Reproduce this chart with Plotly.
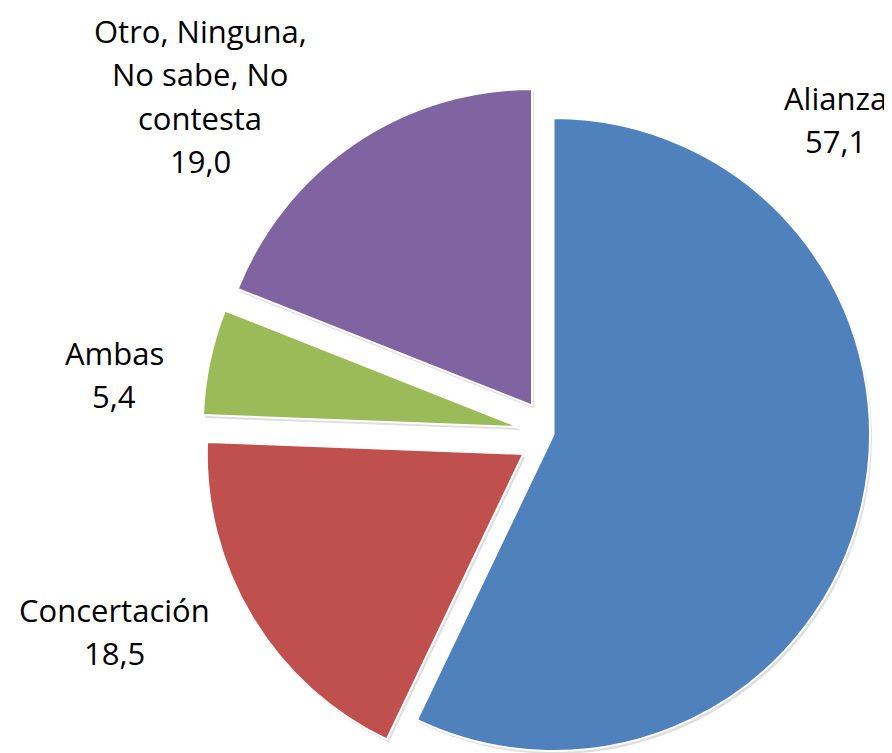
import plotly.graph_objects as go

# ---- data ----
labels = ["Alianza", "Concertación", "Ambas", "Otro, Ninguna, No sabe, No contesta"]
values = [57.1, 18.5, 5.4, 19.0]
label_lines = [["Alianza"], ["Concertación"], ["Ambas"], ["Otro, Ninguna,", "No sabe, No", "contesta"]]
colors = ["#4F81BD", "#C0504D", "#9BBB59", "#8064A2"]

# ---- layout constants (window pixels) ----
OFF = 8                      # page body margin
W, H = 892 - OFF, 766        # figure size (bottom slightly below the window)
R = 316.5
centers = [(553.5, 434.5), (523.3, 453.9), (519.3, 427.0), (532.0, 405.5)]  # exploded slice centres
label_anchor = [(835, 110), (114, 622), (114, 365), (200, 43)]   # centre x, first baseline y
LINE_STEP = [43.5, 43.5, 43.5, 43.4]
FONT = 31
FONT_FAMILY = "Open Sans"
SHADOW_DX, SHADOW_DY = 2, 3


def clamp(v):
    return min(1.0, max(0.0, v))


def dom(cx, cy, r):
    cx -= OFF
    cy -= OFF
    return dict(x=[clamp((cx - r) / W), clamp((cx + r) / W)],
                y=[clamp(1 - (cy + r) / H), clamp(1 - (cy - r) / H)])


fig = go.Figure()
n = len(values)
# soft shadows underneath
for i in range(n):
    cx, cy = centers[i]
    fig.add_trace(go.Pie(
        labels=labels, values=values, sort=False, direction="clockwise", rotation=0,
        marker=dict(colors=["rgba(0,0,0,0.13)" if j == i else "rgba(0,0,0,0)" for j in range(n)],
                    line=dict(width=0)),
        textinfo="none", hoverinfo="skip", showlegend=False,
        domain=dom(cx + SHADOW_DX, cy + SHADOW_DY, R),
    ))
# slices
for i in range(n):
    cx, cy = centers[i]
    fig.add_trace(go.Pie(
        labels=labels, values=values, sort=False, direction="clockwise", rotation=0,
        marker=dict(colors=[colors[j] if j == i else "rgba(0,0,0,0)" for j in range(n)],
                    line=dict(color="white", width=[2 if j == i else 0 for j in range(n)])),
        textinfo="none", hoverinfo="label+value", showlegend=False,
        domain=dom(cx, cy, R),
    ))

annotations = []
for i, lines in enumerate(label_lines):
    x0, base0 = label_anchor[i]
    txt_lines = lines + [f"{values[i]:.1f}".replace(".", ",")]
    for k, t in enumerate(txt_lines):
        base = base0 + k * LINE_STEP[i] - OFF
        annotations.append(dict(
            text=t, x=(x0 - OFF) / W, y=1 - (base - 0.388 * FONT) / H,
            xref="paper", yref="paper", xanchor="center", yanchor="middle",
            showarrow=False, font=dict(size=FONT, family=FONT_FAMILY, color="black"),
        ))

fig.update_layout(
    width=W, height=H,
    margin=dict(l=0, r=0, t=0, b=0),
    paper_bgcolor="white", plot_bgcolor="white",
    annotations=annotations,
)

fig.write_html("out.html")
